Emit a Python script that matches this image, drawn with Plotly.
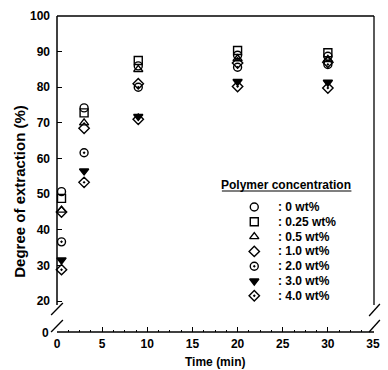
import plotly.graph_objects as go

# ---------------- data ----------------
time_min = [0.5, 3, 9, 20, 30]
conc_labels = [": 0 wt%", ": 0.25 wt%", ": 0.5 wt%", ": 1.0 wt%", ": 2.0 wt%", ": 3.0 wt%", ": 4.0 wt%"]
ext_0 = [50.7, 74.2, 86.0, 89.0, 88.7]
ext_025 = [48.8, 72.8, 87.5, 90.3, 89.7]
ext_05 = [45.5, 70.0, 85.0, 88.0, 87.8]
ext_10 = [45.0, 68.5, 81.0, 86.8, 87.0]
ext_20 = [36.6, 61.6, 80.0, 85.6, 86.4]
ext_30 = [31.5, 56.5, 71.8, 81.6, 81.4]
ext_40 = [28.8, 53.3, 71.0, 80.2, 79.8]
x_ticks = [0, 5, 10, 15, 20, 25, 30, 35]
y_ticks = [20, 30, 40, 50, 60, 70, 80, 90, 100]

series = [ext_0, ext_025, ext_05, ext_10, ext_20, ext_30, ext_40]
symbols = ["circle-open", "square-open", "triangle-up-open", "diamond-open",
           "circle-open-dot", "triangle-down", "diamond-open-dot"]

# ---------------- layout constants (pixels) ----------------
W, H = 388, 370
L, R, T, B = 57, 380, 16, 332
Y20 = 301
FONT = "Liberation Sans"


def px(x):
    return (x - L) / (R - L)


def py(y):
    return (B - y) / (B - T)


fig = go.Figure()
for vals, sym, name in zip(series, symbols, conc_labels):
    fig.add_trace(go.Scatter(
        x=time_min, y=vals, mode="markers", name=name, showlegend=False,
        marker=dict(symbol=sym, size=8, color="black", line=dict(color="black", width=1.4)),
        cliponaxis=False,
    ))

# custom legend on pixel-unit helper axes
LEG_SX, LEG_TX, LEG_Y0, LEG_DY = 258, 280, 207, 14.8
fig.add_trace(go.Scatter(
    x=[LEG_SX] * len(symbols), y=[LEG_Y0 + i * LEG_DY for i in range(len(symbols))],
    mode="markers", showlegend=False, xaxis="x2", yaxis="y3",
    marker=dict(symbol=symbols, size=8, color="black", line=dict(color="black", width=1.4)),
    cliponaxis=False,
))

bold = dict(family=FONT, size=12, color="black", weight="bold")
annotations = []
for i, name in enumerate(conc_labels):
    annotations.append(dict(x=px(LEG_TX), y=py(LEG_Y0 + i * LEG_DY), xref="paper", yref="paper",
                            text=name, showarrow=False, xanchor="left", yanchor="middle", font=bold))
annotations.append(dict(x=px(290), y=py(185), xref="paper", yref="paper", text="Polymer concentration",
                        showarrow=False, xanchor="center", yanchor="middle", font=bold))
annotations.append(dict(x=px(218), y=py(362), xref="paper", yref="paper", text="Time (min)",
                        showarrow=False, xanchor="center", yanchor="middle", font=bold))
annotations.append(dict(x=px(18), y=py(191), xref="paper", yref="paper", text="Degree of extraction (%)",
                        showarrow=False, xanchor="center", yanchor="middle", textangle=-90,
                        font=dict(family=FONT, size=15, color="black", weight="bold")))
annotations.append(dict(x=px(51), y=py(333), xref="paper", yref="paper", text="0",
                        showarrow=False, xanchor="right", yanchor="middle", font=bold))


def line(x0, y0, x1, y1, w=1.3):
    return dict(type="line", xref="paper", yref="paper", x0=px(x0), y0=py(y0), x1=px(x1), y1=py(y1),
                line=dict(color="black", width=w))


shapes = [
    line(L, T, R, T),            # top
    line(L, B, R, B, 1.5),       # bottom axis
    line(L, T, L, 305, 1.5),     # left spine upper
    line(51, 315, 63, 303),      # left break marks
    line(51, 332, 63, 320),
    line(R, T, R, 305),          # right spine upper
    line(375, 316, 386, 304),    # right break marks
    line(375, 332, 386, 320),
    line(225, 191, 357, 191, 1.2),  # legend title underline
]

px_per_unit = (Y20 - T) / 80
y_bottom = 20 - (B - Y20) / px_per_unit

fig.update_layout(
    width=W, height=H,
    margin=dict(l=L, r=W - R, t=T, b=H - B, pad=0),
    plot_bgcolor="white", paper_bgcolor="white",
    font=dict(family=FONT, size=12, color="black"),
    xaxis=dict(range=[0, (R - L) / 9.2], tickvals=x_ticks, ticks="inside", ticklen=5, tickwidth=1.2,
               tickcolor="black", showline=False, showgrid=False, zeroline=False,
               tickfont=bold, ticklabelstandoff=3,
               minor=dict(dtick=1.25, ticks="inside", ticklen=2, tickcolor="black", showgrid=False)),
    yaxis=dict(range=[y_bottom, 100], tickvals=y_ticks, ticks="inside", ticklen=5, tickwidth=1.2,
               tickcolor="black", showline=False, showgrid=False, zeroline=False,
               ticklabelstandoff=6, tickfont=bold),
    xaxis2=dict(overlaying="x", range=[L, R], visible=False, fixedrange=True),
    yaxis3=dict(overlaying="y", range=[B, T], visible=False, fixedrange=True),
    annotations=annotations,
    shapes=shapes,
)

fig.write_html("out.html", config={"displayModeBar": False},
               post_script="document.body.style.margin='0';document.body.style.overflow='hidden';")
